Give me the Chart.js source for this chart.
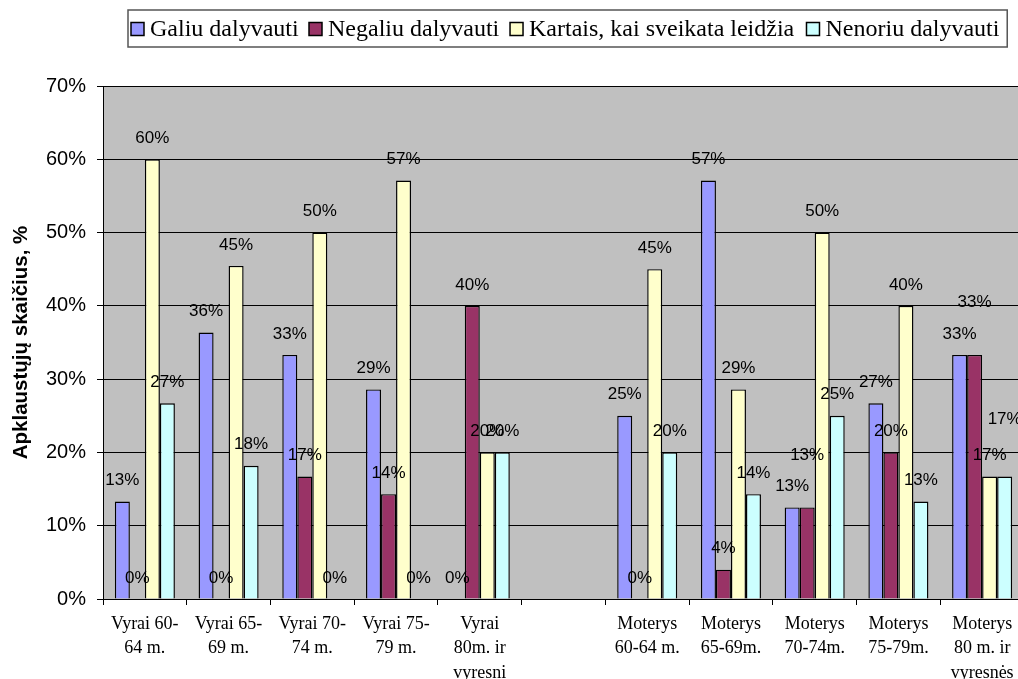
<!DOCTYPE html>
<html>
<head>
<meta charset="utf-8">
<script src="https://cdn.jsdelivr.net/npm/chart.js@4/dist/chart.umd.min.js"></script>
<style>
  html, body { margin: 0; padding: 0; background: #fff; overflow: hidden; }
  #wrap { position: relative; width: 1030px; height: 679px; }
</style>
</head>
<body>
<div id="wrap"><canvas id="c"></canvas></div>
<script>
const categories = [
  ['Vyrai 60-', '64 m.'],
  ['Vyrai 65-', '69 m.'],
  ['Vyrai 70-', '74 m.'],
  ['Vyrai 75-', '79 m.'],
  ['Vyrai', '80m. ir', 'vyresni'],
  '',
  ['Moterys', '60-64 m.'],
  ['Moterys', '65-69m.'],
  ['Moterys', '70-74m.'],
  ['Moterys', '75-79m.'],
  ['Moterys', '80 m. ir', 'vyresnės']
];
const seriesNames = ['Galiu dalyvauti', 'Negaliu dalyvauti', 'Kartais, kai sveikata leidžia', 'Nenoriu dalyvauti'];
const galiu   = [13.3, 36.36, 33.3, 28.6, 0, null, 25, 57.1, 12.5, 26.7, 33.3];
const negaliu = [0, 0, 16.7, 14.3, 40, null, 0, 4, 12.5, 20, 33.3];
const kartais = [60, 45.45, 50, 57.1, 20, null, 45, 28.6, 50, 40, 16.7];
const nenoriu = [26.7, 18.18, 0, 0, 20, null, 20, 14.3, 25, 13.3, 16.7];
const yTicks = [0, 10, 20, 30, 40, 50, 60, 70];
const colors = ['#9999FF', '#993366', '#FFFFCC', '#CCFFFF'];

// extra vertical nudges (px) for a few overlapping value labels: "dataset-index"
const labelNudge = { '1-8': -31, '1-10': -32, '3-10': -36 };

const plotBg = {
  id: 'plotBg',
  beforeDraw(chart) {
    const { ctx, chartArea: a } = chart;
    ctx.save();
    ctx.fillStyle = '#C0C0C0';
    ctx.fillRect(a.left, a.top, a.right - a.left, a.bottom - a.top);
    ctx.restore();
  }
};

const valueLabels = {
  id: 'valueLabels',
  afterDatasetsDraw(chart) {
    const ctx = chart.ctx;
    ctx.save();
    ctx.font = '17px "Liberation Sans", Arial, sans-serif';
    ctx.fillStyle = '#000';
    ctx.textAlign = 'center';
    ctx.textBaseline = 'middle';
    chart.data.datasets.forEach((ds, di) => {
      const meta = chart.getDatasetMeta(di);
      meta.data.forEach((el, i) => {
        const v = ds.data[i];
        if (v === null || v === undefined) return;
        const nudge = labelNudge[di + '-' + i] || 0;
        ctx.fillText(Math.round(v) + '%', el.x, el.y - 21 + nudge);
      });
    });
    ctx.restore();
  }
};

const customLegend = {
  id: 'customLegend',
  afterDraw(chart) {
    const ctx = chart.ctx;
    ctx.save();
    ctx.font = '24px "Liberation Serif", "Times New Roman", serif';
    ctx.textBaseline = 'middle';
    ctx.textAlign = 'left';
    const startX = 131, cy = 29, box = 13, gapBox = 6, gapItem = 8;
    let x = startX;
    chart.data.datasets.forEach((ds) => {
      ctx.fillStyle = ds.backgroundColor;
      ctx.fillRect(x, cy - box / 2, box, box);
      ctx.strokeStyle = '#000';
      ctx.lineWidth = 1.5;
      ctx.strokeRect(x, cy - box / 2, box, box);
      x += box + gapBox;
      ctx.fillStyle = '#000';
      ctx.fillText(ds.label, x, cy + 1);
      x += ctx.measureText(ds.label).width * 1.016 + gapItem;
    });
    ctx.strokeStyle = '#555';
    ctx.lineWidth = 1.5;
    ctx.strokeRect(startX - 3, 10, x - startX - gapItem + 8, 37);
    ctx.restore();
  }
};

const series = [galiu, negaliu, kartais, nenoriu];
new Chart(document.getElementById('c'), {
  type: 'bar',
  data: {
    labels: categories,
    datasets: series.map((d, i) => ({
      label: seriesNames[i],
      data: d,
      backgroundColor: colors[i],
      borderColor: '#000',
      borderWidth: 1.4,
      barPercentage: 1,
      categoryPercentage: 0.717
    }))
  },
  options: {
    responsive: true,
    maintainAspectRatio: false,
    animation: false,
    layout: { padding: { top: 86, right: 6, bottom: 0, left: 0 } },
    plugins: {
      legend: { display: false },
      tooltip: { enabled: false }
    },
    scales: {
      x: {
        grid: { display: true, drawOnChartArea: false, drawTicks: true, tickLength: 6, color: '#000', offset: true },
        border: { display: true, color: '#000', width: 1 },
        ticks: {
          autoSkip: false, maxRotation: 0, minRotation: 0, padding: 7,
          color: '#000',
          font: { family: '"Liberation Serif", "Times New Roman", serif', size: 18, lineHeight: 1.36 }
        },
        afterFit(scale) { scale.height = 80; }
      },
      y: {
        min: 0, max: 70,
        afterBuildTicks(scale) { scale.ticks = yTicks.map(v => ({ value: v })); },
        grid: { color: '#000', lineWidth: 1, tickLength: 6, drawTicks: true },
        border: { display: true, color: '#000', width: 1 },
        ticks: {
          padding: 11, color: '#000',
          font: { family: '"Liberation Sans", Arial, sans-serif', size: 20 },
          callback: v => v + '%'
        },
        title: {
          display: true,
          text: 'Apklaustųjų skaičius, %',
          color: '#000',
          font: { family: '"Liberation Sans", Arial, sans-serif', size: 20.5, weight: 'bold' },
          padding: { top: 9, bottom: 0 }
        },
        afterFit(scale) { scale.width = 103; }
      }
    }
  },
  plugins: [plotBg, valueLabels, customLegend]
});
</script>
</body>
</html>
